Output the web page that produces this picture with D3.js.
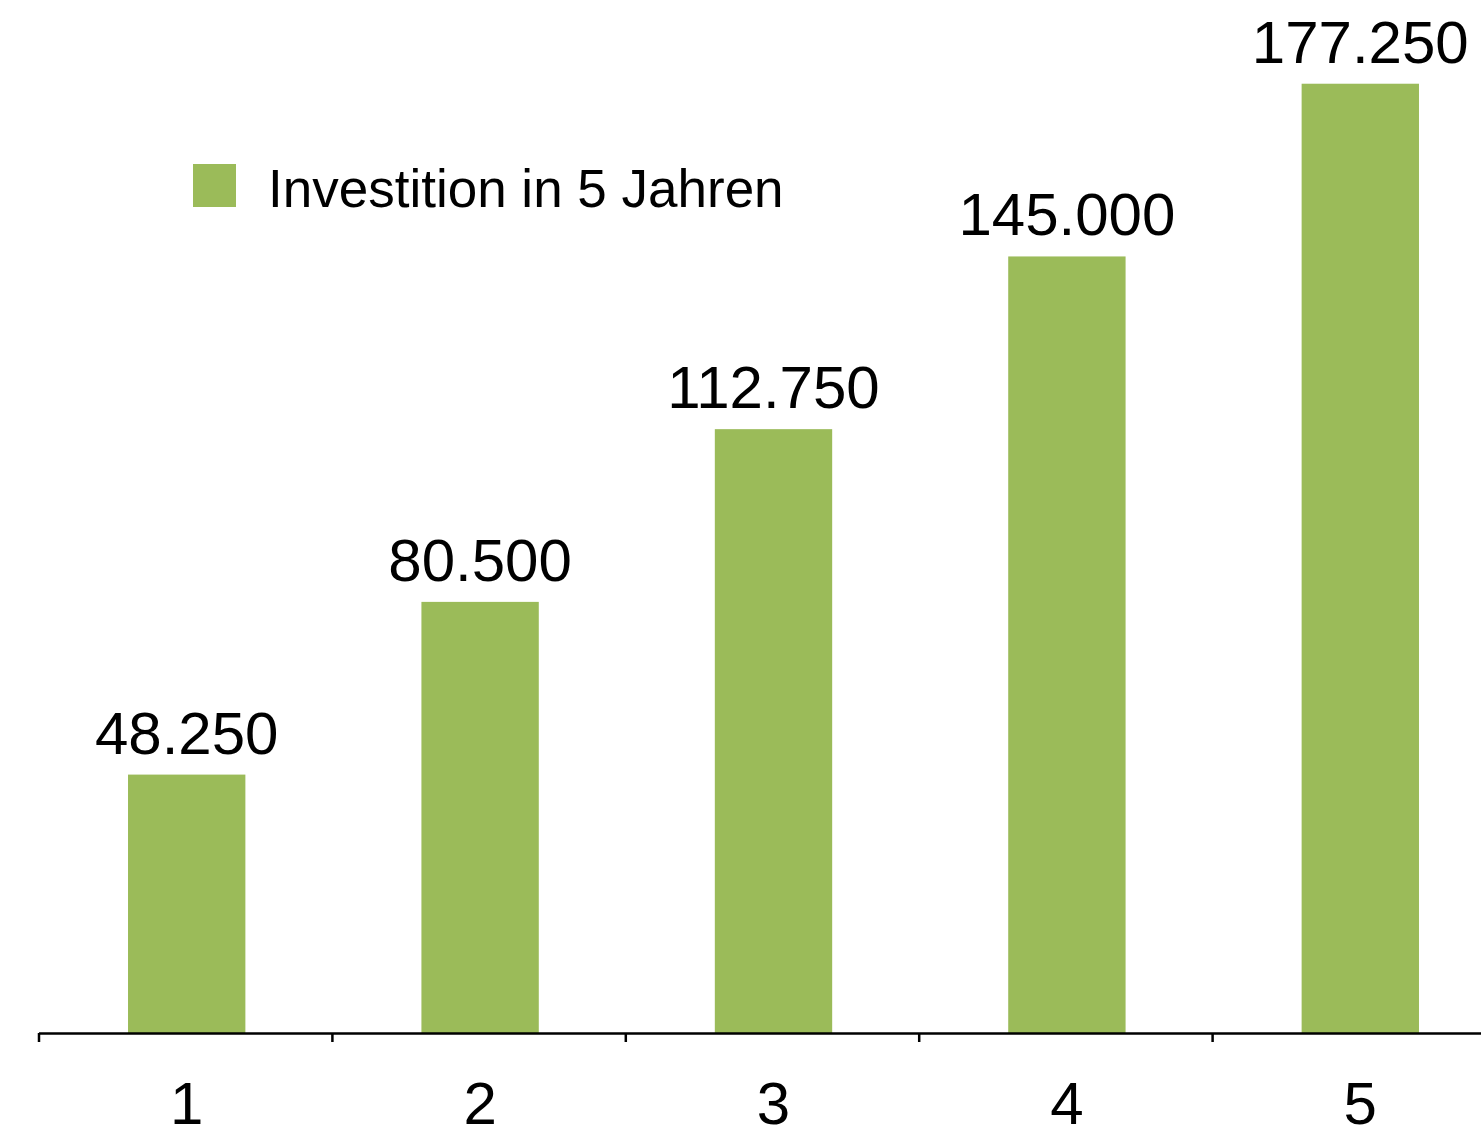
<!DOCTYPE html>
<html>
<head>
<meta charset="utf-8">
<script src="https://cdn.jsdelivr.net/npm/d3@7"></script>
<style>
  body { margin: 0; background: #fff; }
  svg { display: block; font-family: "Liberation Sans", Arial, Helvetica, sans-serif; }
</style>
</head>
<body>
<div id="chart"></div>
<script>
const years = ['1', '2', '3', '4', '5'];
const values = [48250, 80500, 112750, 145000, 177250];
const seriesName = 'Investition in 5 Jahren';

const width = 1481;
const height = 1130;
const axisY = 1033;

const svg = d3.select('#chart')
  .append('svg')
  .attr('width', width)
  .attr('height', height);

const x = d3.scaleBand()
  .domain(years)
  .range([38.5, 1505.5])
  .paddingInner(0.6)
  .paddingOuter(0.3);

const y = d3.scaleLinear()
  .domain([0, 180000])
  .range([axisY, 69]);

const fmt = v => d3.format(',')(v).replace(/,/g, '.');

// bars sit ~2px right of the band position in the original
const barX = i => x(years[i]) + 1.5;

svg.append('g')
  .attr('fill', '#9bbb59')
  .selectAll('rect')
  .data(values)
  .join('rect')
    .attr('x', (d, i) => barX(i))
    .attr('y', d => y(d))
    .attr('width', x.bandwidth())
    .attr('height', d => y(0) - y(d));

svg.append('g')
  .attr('font-size', 60)
  .attr('text-anchor', 'middle')
  .selectAll('text')
  .data(values)
  .join('text')
    .attr('x', (d, i) => barX(i) + x.bandwidth() / 2)
    .attr('y', d => y(d) - 21)
    .text(d => fmt(d));

// axis with ticks at the band edges
const edge = d3.scaleLinear()
  .domain([0, years.length])
  .range(x.range());

svg.append('g')
  .attr('transform', `translate(0,${axisY})`)
  .call(d3.axisBottom(edge)
    .tickValues(d3.range(years.length + 1))
    .tickFormat('')
    .tickSize(9)
    .tickSizeOuter(0))
  .call(g => g.selectAll('path, line').attr('stroke', '#000').attr('stroke-width', 2.5));

svg.append('g')
  .attr('font-size', 60)
  .attr('text-anchor', 'middle')
  .selectAll('text')
  .data(years)
  .join('text')
    .attr('x', (d, i) => barX(i) + x.bandwidth() / 2)
    .attr('y', 1124)
    .text(d => d);

// legend
const legend = svg.append('g').attr('transform', 'translate(193,164)');
legend.append('rect')
  .attr('width', 43)
  .attr('height', 43)
  .attr('fill', '#9bbb59');
legend.append('text')
  .attr('x', 75)
  .attr('y', 43)
  .attr('font-size', 53)
  .text(seriesName);
</script>
</body>
</html>
